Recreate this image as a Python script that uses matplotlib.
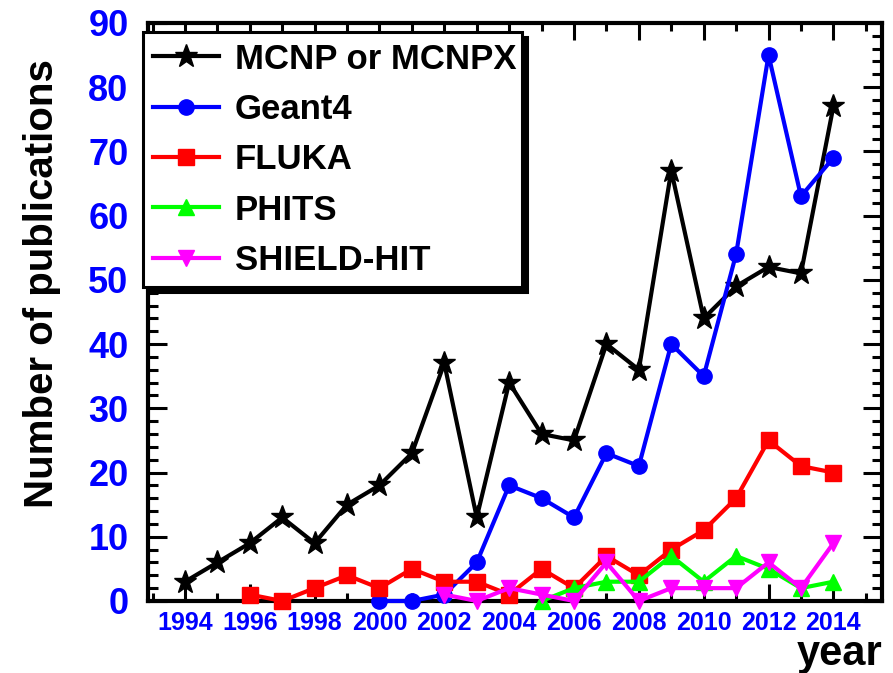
import matplotlib
matplotlib.use("Agg")
import matplotlib.pyplot as plt
from matplotlib.ticker import MultipleLocator

plt.rcParams['font.family'] = ['Liberation Sans', 'DejaVu Sans']
plt.rcParams['font.weight'] = 'bold'

# publications per year for each code
mcnp_years = [1994, 1995, 1996, 1997, 1998, 1999, 2000, 2001, 2002, 2003, 2004,
              2005, 2006, 2007, 2008, 2009, 2010, 2011, 2012, 2013, 2014]
mcnp = [3, 6, 9, 13, 9, 15, 18, 23, 37, 13, 34, 26, 25, 40, 36, 67, 44, 49, 52, 51, 77]

geant4_years = [2000, 2001, 2002, 2003, 2004, 2005, 2006, 2007, 2008, 2009, 2010,
                2011, 2012, 2013, 2014]
geant4 = [0, 0, 1, 6, 18, 16, 13, 23, 21, 40, 35, 54, 85, 63, 69]

fluka_years = [1996, 1997, 1998, 1999, 2000, 2001, 2002, 2003, 2004, 2005, 2006,
               2007, 2008, 2009, 2010, 2011, 2012, 2013, 2014]
fluka = [1, 0, 2, 4, 2, 5, 3, 3, 1, 5, 2, 7, 4, 8, 11, 16, 25, 21, 20]

phits_years = [2005, 2006, 2007, 2008, 2009, 2010, 2011, 2012, 2013, 2014]
phits = [0, 2, 3, 3, 7, 3, 7, 5, 2, 3]

shield_years = [2002, 2003, 2004, 2005, 2006, 2007, 2008, 2009, 2010, 2011, 2012,
                2013, 2014]
shield = [1, 0, 2, 1, 0, 6, 0, 2, 2, 2, 6, 2, 9]

fig = plt.figure(figsize=(8.93, 6.73), dpi=100)
ax = fig.add_axes([0.1657, 0.107, 0.822, 0.859])

lw = 3
ax.plot(mcnp_years, mcnp, color='black', marker='*', ms=17, lw=lw,
        label='MCNP or MCNPX', clip_on=False, zorder=3)
ax.plot(geant4_years, geant4, color='blue', marker='o', ms=11, lw=lw,
        label='Geant4', clip_on=False, zorder=3)
ax.plot(fluka_years, fluka, color='red', marker='s', ms=11.5, lw=lw,
        label='FLUKA', clip_on=False, zorder=3)
ax.plot(phits_years, phits, color=(0, 1, 0), marker='^', ms=12, lw=lw,
        label='PHITS', clip_on=False, zorder=3)
ax.plot(shield_years, shield, color='magenta', marker='v', ms=12, lw=lw,
        label='SHIELD-HIT', clip_on=False, zorder=3)

ax.set_xlim(1992.86, 2015.5)
ax.set_ylim(0, 90)
ax.xaxis.set_major_locator(MultipleLocator(2))
ax.xaxis.set_minor_locator(MultipleLocator(1))
ax.yaxis.set_major_locator(MultipleLocator(10))
ax.yaxis.set_minor_locator(MultipleLocator(2))

for s in ax.spines.values():
    s.set_linewidth(3)

ax.tick_params(axis='both', which='both', direction='in', top=True, right=True,
               width=2.2, colors='black')
ax.tick_params(axis='x', which='major', length=12, pad=7, labelsize=18,
               labelcolor='blue')
ax.tick_params(axis='x', which='minor', length=6)
ax.tick_params(axis='y', which='major', length=14, pad=14, labelsize=26,
               labelcolor='blue')
ax.tick_params(axis='y', which='minor', length=7)
for lab in ax.get_xticklabels() + ax.get_yticklabels():
    lab.set_fontweight('bold')

leg = ax.legend(loc='upper left', bbox_to_anchor=(-0.007, 0.55, 0.517, 0.434),
                mode='expand', borderaxespad=0, fontsize=25, frameon=True,
                fancybox=False, framealpha=1, edgecolor='black',
                handlelength=1.9, handletextpad=0.45, labelspacing=0.5,
                borderpad=0.3,
                shadow={'color': 'black', 'alpha': 1, 'ox': 3.5, 'oy': -3.5})
leg.get_frame().set_linewidth(2.2)
for t in leg.get_texts():
    t.set_fontweight('bold')

fig.text(42 / 893, 1 - 283.5 / 673, 'Number of publications', rotation=90,
         ha='center', va='center', fontsize=29, fontweight='bold')
fig.text(882 / 893, 1 - 665 / 673, 'year', ha='right', va='baseline',
         fontsize=30, fontweight='bold')

fig.savefig('out.png', dpi=100)
